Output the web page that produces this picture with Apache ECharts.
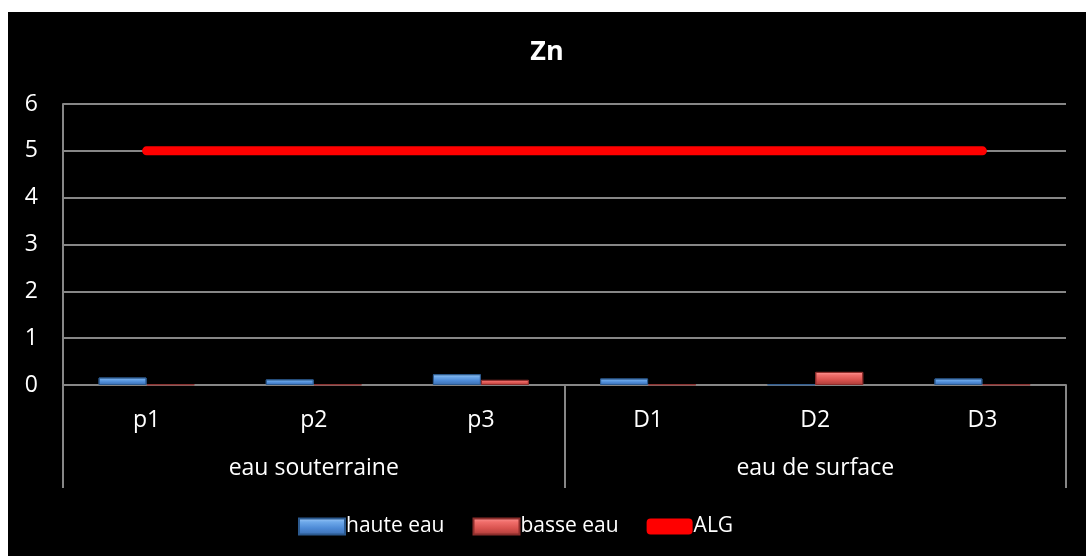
<!DOCTYPE html>
<html>
<head>
<meta charset="UTF-8">
<script src="https://cdn.jsdelivr.net/npm/echarts@6/dist/echarts.min.js"></script>
<style>
  html, body { margin: 0; padding: 0; background: #ffffff; }
  #chart { position: absolute; left: 8px; top: 12px; width: 1078px; height: 544px; background: #000000; }
</style>
</head>
<body>
<div id="chart"></div>
<script>
// data
var sites = ['p1', 'p2', 'p3', 'D1', 'D2', 'D3'];
var groups = ['eau souterraine', 'eau de surface'];
var hauteEau = [0.16, 0.12, 0.23, 0.14, 0.01, 0.14];
var basseEau = [0.01, 0.01, 0.11, 0.01, 0.28, 0.01];
var alg = [5, 5, 5, 5, 5, 5];

var chart = echarts.init(document.getElementById('chart'));
var font = '"Open Sans", sans-serif';
var gray = '#868686';

var blueFill = new echarts.graphic.LinearGradient(0, 0, 0, 1, [
    { offset: 0, color: '#a8d0fa' },
    { offset: 0.25, color: '#6ea9ea' },
    { offset: 0.6, color: '#4d8ad6' },
    { offset: 1, color: '#3a6cae' }
]);
var redFill = new echarts.graphic.LinearGradient(0, 0, 0, 1, [
    { offset: 0, color: '#ff9c9a' },
    { offset: 0.25, color: '#f06e6b' },
    { offset: 0.6, color: '#d9534f' },
    { offset: 1, color: '#a93b38' }
]);

var option = {
    backgroundColor: '#000000',
    textStyle: { fontFamily: font },
    title: {
        text: 'Zn',
        left: 'center',
        top: 22,
        textStyle: { color: '#ffffff', fontSize: 27, fontWeight: 'bold', fontFamily: font }
    },
    legend: {
        bottom: 14,
        left: 285,
        itemWidth: 46,
        itemHeight: 16,
        itemGap: 28,
        textStyle: { color: '#ffffff', fontSize: 21, fontFamily: font, padding: [0, 0, 0, -4] },
        data: [
            { name: 'haute eau', icon: 'rect' },
            { name: 'basse eau', icon: 'rect' },
            { name: 'ALG', icon: 'roundRect' }
        ]
    },
    grid: { left: 55, right: 20, top: 92, bottom: 171 },
    xAxis: [{
        type: 'category',
        data: sites,
        position: 'bottom',
        axisLine: { show: true, lineStyle: { color: gray, width: 2 } },
        axisTick: { show: false },
        axisLabel: { color: '#ffffff', fontSize: 23, margin: 24 }
    }, {
        type: 'category',
        data: groups,
        position: 'bottom',
        axisLine: { show: false },
        axisTick: { show: true, length: 103, lineStyle: { color: gray, width: 2 } },
        axisLabel: { color: '#ffffff', fontSize: 23, margin: 72 }
    }],
    yAxis: {
        type: 'value',
        min: 0,
        max: 6,
        interval: 1,
        axisLine: { show: true, lineStyle: { color: gray, width: 2 } },
        axisTick: { show: false },
        axisLabel: { color: '#ffffff', fontSize: 23, margin: 25 },
        splitLine: { show: true, lineStyle: { color: gray, width: 2 } }
    },
    series: [{
        name: 'haute eau',
        type: 'bar',
        xAxisIndex: 0,
        data: hauteEau,
        barWidth: 48,
        barGap: '0%',
        itemStyle: { color: blueFill, borderColor: '#2c5a8f', borderWidth: 1 }
    }, {
        name: 'basse eau',
        type: 'bar',
        xAxisIndex: 0,
        data: basseEau,
        barWidth: 48,
        barGap: '0%',
        itemStyle: { color: redFill, borderColor: '#8c2e2c', borderWidth: 1 }
    }, {
        name: 'ALG',
        type: 'line',
        xAxisIndex: 0,
        data: alg,
        symbol: 'none',
        itemStyle: { color: '#ff0000' },
        lineStyle: { color: '#ff0000', width: 9, cap: 'round' }
    }]
};
chart.setOption(option);
</script>
</body>
</html>
